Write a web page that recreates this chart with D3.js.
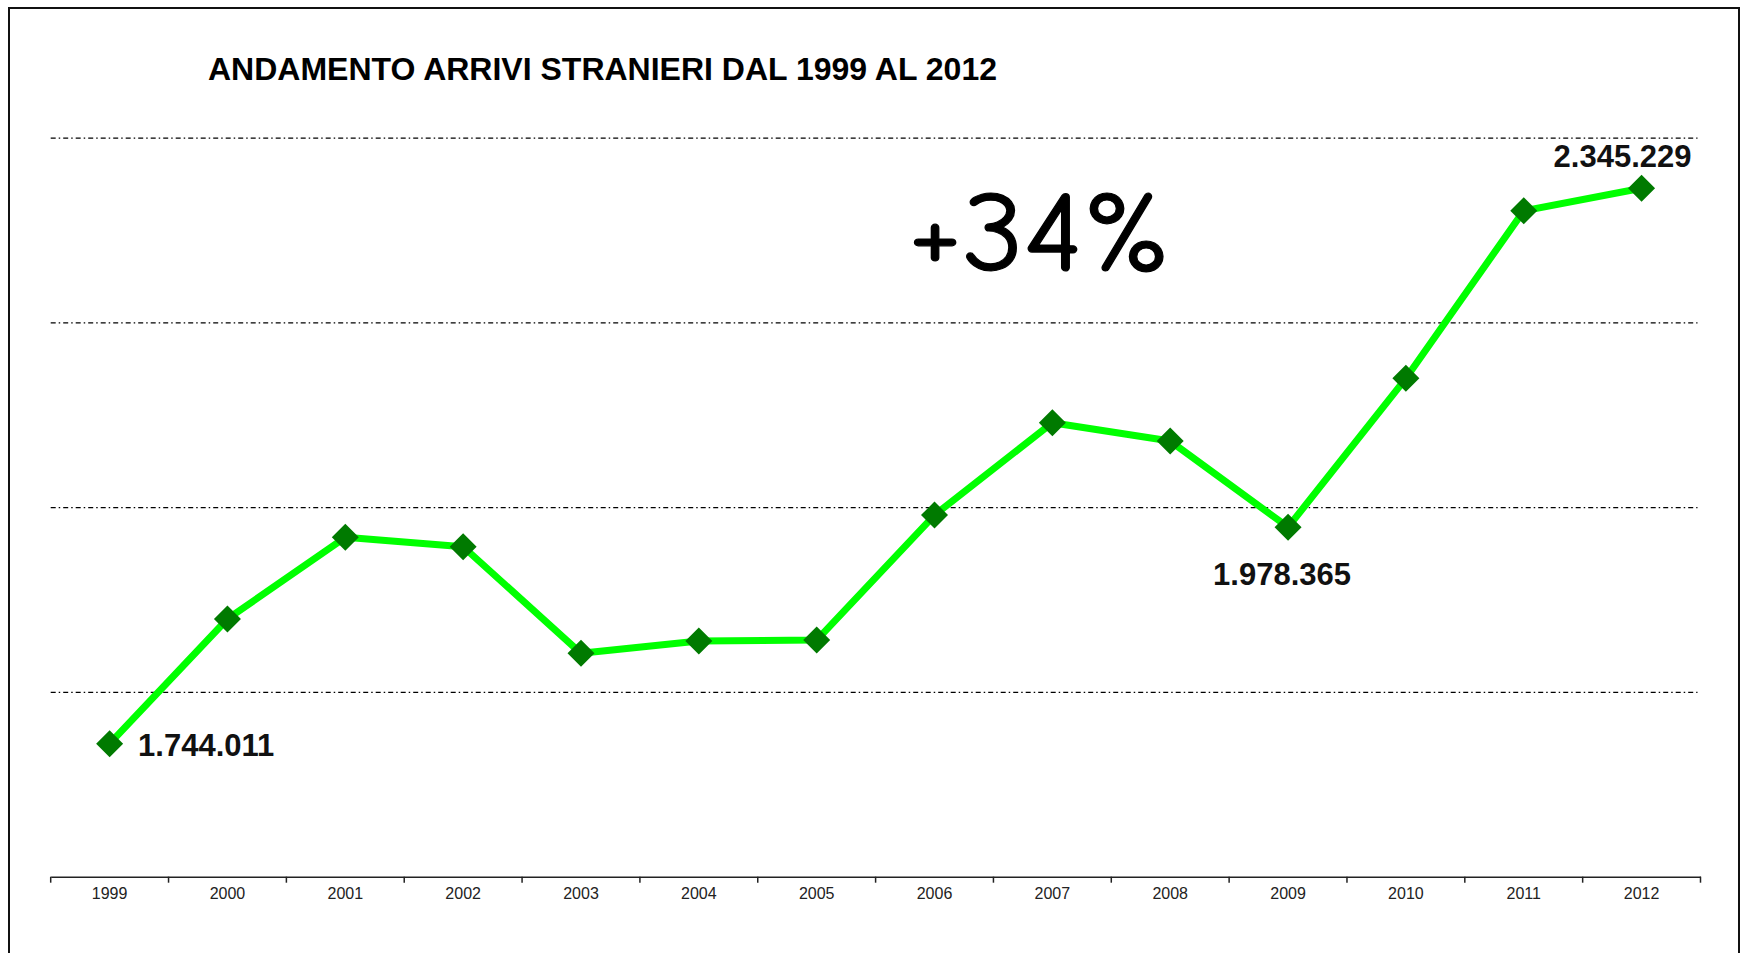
<!DOCTYPE html>
<html>
<head>
<meta charset="utf-8">
<script src="https://cdn.jsdelivr.net/npm/d3@7"></script>
<style>
  html, body { margin: 0; padding: 0; background: #fff; }
  svg { display: block; }
</style>
</head>
<body>
<svg id="chart" width="1741" height="953"></svg>
<script>
// ---- data ----
const years = ["1999","2000","2001","2002","2003","2004","2005","2006","2007","2008","2009","2010","2011","2012"];
const arrivals = [1744011, 1879000, 1967400, 1957200, 1841800, 1855200, 1856200, 1991500, 2091500, 2071600, 1978365, 2139500, 2320900, 2345229];
const gridValues = [1600000, 1800000, 2000000, 2200000, 2400000];
const labeledYears = ["1999", "2009", "2012"];
const titleText = "ANDAMENTO ARRIVI STRANIERI DAL 1999 AL 2012";
const growthText = "+34%";

// ---- setup ----
const svg = d3.select("#chart");
const W = 1741, H = 953;
const plotLeft = 50.7, plotRight = 1700.5, plotTop = 137.7, plotBottom = 876.7;

const x = d3.scaleBand().domain(years).range([plotLeft, plotRight]).padding(0);
const y = d3.scaleLinear().domain([d3.min(gridValues), d3.max(gridValues)]).range([plotBottom, plotTop]);

const it = d3.formatLocale({decimal: ",", thousands: ".", grouping: [3], currency: ["€", ""]});
const fmt = it.format(",d");

// frame
svg.append("rect")
  .attr("x", 9).attr("y", 8)
  .attr("width", 1730).attr("height", H + 20)
  .attr("fill", "none").attr("stroke", "#111").attr("stroke-width", 2);

// title
svg.append("text")
  .attr("x", 208).attr("y", 80)
  .attr("font-family", "'Liberation Sans', Arial, sans-serif")
  .attr("font-weight", "bold")
  .attr("font-size", 32)
  .attr("textLength", 789)
  .attr("lengthAdjust", "spacingAndGlyphs")
  .attr("fill", "#000")
  .text(titleText);

// gridlines (dash-dot)
const grid = svg.append("g")
  .attr("transform", `translate(${plotLeft},0)`)
  .call(d3.axisLeft(y).tickValues(gridValues.slice(1)).tickSize(-(plotRight - plotLeft - 3)).tickFormat(""));
grid.select(".domain").remove();
grid.selectAll(".tick line")
  .attr("stroke", "#000")
  .attr("stroke-width", 1.2)
  .attr("stroke-dasharray", "5,3,1.5,3");

// x axis
const xAxis = svg.append("g")
  .attr("transform", `translate(0,${plotBottom})`)
  .call(d3.axisBottom(x).tickSize(0).tickPadding(11).tickSizeOuter(0));
xAxis.select(".domain").attr("stroke", "#222").attr("stroke-width", 1.5);
xAxis.selectAll(".tick text")
  .attr("font-family", "'Liberation Sans', Arial, sans-serif")
  .attr("font-size", 16)
  .attr("fill", "#222");
// boundary ticks between categories
const boundaries = years.map(d => x(d)).concat([x(years[years.length - 1]) + x.bandwidth()]);
xAxis.selectAll(".bound")
  .data(boundaries)
  .enter().append("line")
  .attr("class", "bound")
  .attr("x1", d => d).attr("x2", d => d)
  .attr("y1", 0).attr("y2", 6)
  .attr("stroke", "#222").attr("stroke-width", 1.5);

// series
const pts = years.map((yr, i) => ({year: yr, value: arrivals[i]}));
const cx = d => x(d.year) + x.bandwidth() / 2;

svg.append("path")
  .datum(pts)
  .attr("fill", "none")
  .attr("stroke", "#00ff00")
  .attr("stroke-width", 7)
  .attr("stroke-linejoin", "round")
  .attr("d", d3.line().x(cx).y(d => y(d.value)));

svg.selectAll(".marker")
  .data(pts)
  .enter().append("path")
  .attr("class", "marker")
  .attr("transform", d => `translate(${cx(d)},${y(d.value)})`)
  .attr("d", "M0,-13.5L13.5,0L0,13.5L-13.5,0Z")
  .attr("fill", "#007a00");

// value labels
const labelPos = {
  "1999": {dx: 28.5, dy: 12, anchor: "start"},
  "2009": {dx: -6, dy: 58, anchor: "middle"},
  "2012": {dx: -19, dy: -21, anchor: "middle"}
};
svg.selectAll(".vlabel")
  .data(pts.filter(d => labeledYears.includes(d.year)))
  .enter().append("text")
  .attr("class", "vlabel")
  .attr("x", d => cx(d) + labelPos[d.year].dx)
  .attr("y", d => y(d.value) + labelPos[d.year].dy)
  .attr("text-anchor", d => labelPos[d.year].anchor)
  .attr("font-family", "'Liberation Sans', Arial, sans-serif")
  .attr("font-weight", "bold")
  .attr("font-size", 31)
  .attr("fill", "#111")
  .text(d => fmt(d.value));

// growth annotation
svg.append("text")
  .attr("x", 908).attr("y", 270)
  .attr("font-family", "'Comic Sans MS', 'Comic Neue', Lato, 'DejaVu Sans', sans-serif")
  .attr("font-size", 114)
  .attr("textLength", 263)
  .attr("lengthAdjust", "spacingAndGlyphs")
  .attr("fill", "#000")
  .attr("stroke", "#000")
  .attr("stroke-width", 1.2)
  .attr("stroke-linejoin", "round")
  .text(growthText);
</script>
</body>
</html>
